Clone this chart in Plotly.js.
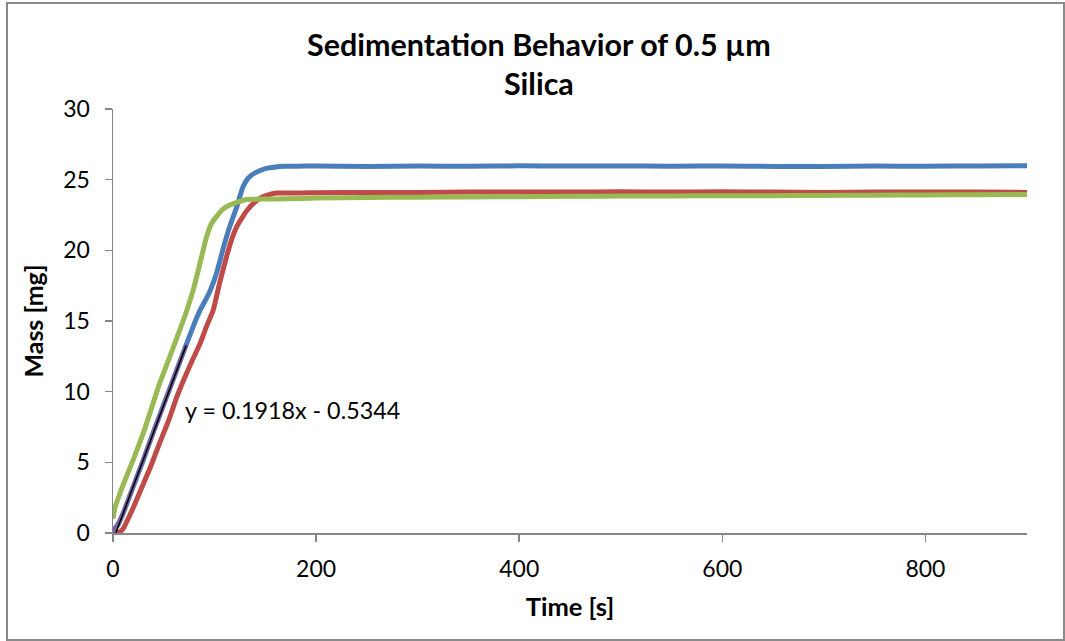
<!DOCTYPE html>
<html>
<head>
<meta charset="utf-8">
<script src="https://cdn.plot.ly/plotly-3.0.1.min.js"></script>
<style>
  html, body { margin: 0; padding: 0; background: #fff; }
  #wrap { position: relative; width: 1065px; height: 641px; }
  #chart { position: absolute; left: 0; top: 0; width: 1065px; height: 641px; }
  #frame { position: absolute; left: 6px; top: 2px; width: 1055px; height: 635px;
           border: 2px solid #8a8a8a; pointer-events: none; }
</style>
</head>
<body>
<div id="wrap">
  <div id="chart"></div>
  <div id="frame"></div>
</div>
<script>
// ---- data ----
const blueTime = [0, 5, 10, 20, 30, 40, 50, 60, 72, 80, 86, 92, 96, 102, 108, 115, 122, 128, 133, 138, 145, 151, 160, 168, 180, 200, 250, 300, 350, 400, 450, 500, 550, 600, 650, 700, 750, 800, 850, 900];
const blueMass = [0.2, 0.6, 1.4, 3.3, 5.2, 7.2, 9.1, 11.0, 13.3, 14.8, 15.8, 16.6, 17.2, 18.4, 20.0, 21.7, 23.1, 24.5, 25.1, 25.4, 25.65, 25.8, 25.9, 25.95, 25.95, 25.97, 25.93, 25.96, 25.95, 25.98, 25.96, 25.97, 25.95, 25.97, 25.94, 25.93, 25.96, 25.95, 25.97, 25.98];

const redTime = [3, 7, 10, 13.5, 20, 30, 36.5, 45, 55, 62.7, 70, 78, 85.7, 92, 98.8, 105, 112, 117, 122, 127, 131.7, 138, 145, 152, 161, 170, 185, 200, 250, 300, 350, 400, 450, 500, 550, 600, 650, 700, 750, 800, 850, 900];
const redMass = [0, 0.1, 0.3, 0.8, 1.8, 3.5, 4.6, 6.2, 8.0, 9.6, 10.9, 12.2, 13.4, 14.6, 15.8, 17.7, 19.6, 20.8, 21.7, 22.3, 22.8, 23.3, 23.7, 23.9, 24.05, 24.05, 24.05, 24.08, 24.1, 24.1, 24.12, 24.13, 24.12, 24.15, 24.12, 24.14, 24.12, 24.1, 24.12, 24.13, 24.12, 24.1];

const greenTime = [0, 2, 10, 20, 30, 46, 55, 66, 72, 79, 85.7, 92.3, 97, 102, 108, 115, 122, 131.7, 140, 151, 170, 200, 250, 300, 350, 400, 450, 500, 550, 600, 650, 700, 750, 800, 850, 900];
const greenMass = [1.0, 1.8, 3.4, 5.2, 7.1, 10.6, 12.3, 14.4, 15.6, 17.2, 19.1, 21.0, 21.9, 22.4, 22.9, 23.2, 23.4, 23.6, 23.62, 23.63, 23.65, 23.7, 23.74, 23.76, 23.78, 23.8, 23.82, 23.84, 23.85, 23.86, 23.87, 23.88, 23.9, 23.92, 23.93, 23.95];

const fitTime = [0, 10, 20, 30, 40, 50, 60, 72];
const fitMass = [0.0, 1.4, 3.3, 5.2, 7.2, 9.1, 11.0, 13.3];

const trendSlope = 0.1918;
const trendIntercept = -0.5344;
const trendRange = [2.8, 72];
const trendLabel = "y = 0.1918x - 0.5344";

const xTicks = [0, 200, 400, 600, 800];
const yTicks = [0, 5, 10, 15, 20, 25, 30];

// ---- chart ----
const FONT = "Lato, 'Open Sans', sans-serif";
const trendX = trendRange;
const trendY = trendX.map(x => trendSlope * x + trendIntercept);
const SM = {shape: 'spline', smoothing: 0.5};

const traces = [
  {x: blueTime, y: blueMass, mode: 'lines', line: Object.assign({color: '#4A7EBB', width: 5}, SM), hoverinfo: 'skip'},
  {x: redTime, y: redMass, mode: 'lines', line: Object.assign({color: '#BE4B48', width: 5}, SM), hoverinfo: 'skip'},
  {x: greenTime, y: greenMass, mode: 'lines', line: Object.assign({color: '#98B954', width: 5}, SM), hoverinfo: 'skip'},
  {x: fitTime, y: fitMass, mode: 'lines', line: {color: '#7D60A0', width: 4}, hoverinfo: 'skip'},
  {x: trendX, y: trendY, mode: 'lines', line: {color: '#000000', width: 1.5}, hoverinfo: 'skip'}
];

const axisCommon = {
  showline: true, linecolor: '#868686', linewidth: 1.5,
  ticks: 'outside', ticklen: 7, tickcolor: '#868686', tickwidth: 1.5,
  showgrid: false, zeroline: false,
  tickfont: {family: FONT, size: 23, color: '#000'},
  fixedrange: true
};

const layout = {
  width: 1065, height: 641,
  margin: {l: 113, r: 38, t: 109, b: 108},
  paper_bgcolor: '#fff', plot_bgcolor: '#fff',
  showlegend: false,
  title: {
    text: '<b>Sedimentation Behavior of 0.5 µm<br>Silica</b>',
    font: {family: FONT, size: 30.5, color: '#000'},
    x: 0.506, xref: 'container', xanchor: 'center',
    y: 0.913, yref: 'container', yanchor: 'top'
  },
  xaxis: Object.assign({}, axisCommon, {
    range: [0, 900], tickvals: xTicks, ticktext: xTicks.map(String),
    ticklabelstandoff: 8,
    title: {text: '<b>Time [s]</b>', font: {family: FONT, size: 25.5, color: '#000'}, standoff: 17}
  }),
  yaxis: Object.assign({}, axisCommon, {
    range: [0, 30], tickvals: yTicks, ticktext: yTicks.map(String),
    ticklabelstandoff: 10,
    title: {text: '<b>Mass [mg]</b>', font: {family: FONT, size: 25, color: '#000'}, standoff: 12}
  }),
  annotations: [{
    x: 69, y: 8.73, xref: 'x', yref: 'y', xanchor: 'left', yanchor: 'middle',
    text: trendLabel, showarrow: false,
    font: {family: FONT, size: 23.3, color: '#000'}
  }]
};

Plotly.newPlot('chart', traces, layout, {staticPlot: true, displayModeBar: false});
</script>
</body>
</html>
